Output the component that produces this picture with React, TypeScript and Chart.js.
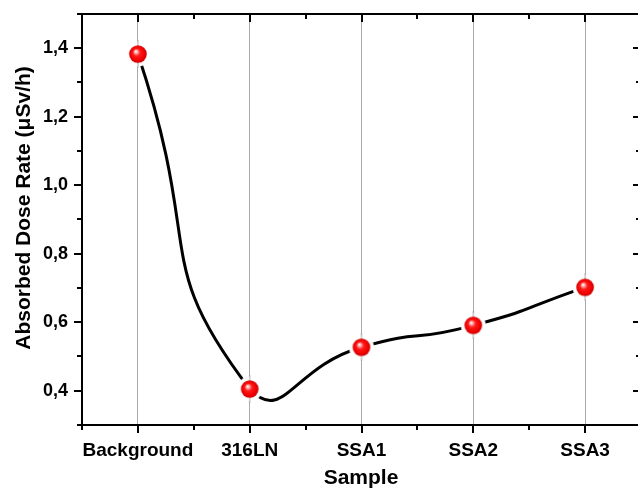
import React, { useEffect, useRef } from "react";
import { Chart, registerables } from "chart.js";

Chart.register(...registerables);

const categories = ["Background", "316LN", "SSA1", "SSA2", "SSA3"];
const doseRate = [1.383, 0.405, 0.527, 0.591, 0.702];
const yTickValues = [0.4, 0.6, 0.8, 1.0, 1.2, 1.4];
const yMinorValues = [0.3, 0.5, 0.7, 0.9, 1.1, 1.3, 1.5];
const xTitle = "Sample";
const yTitle = "Absorbed Dose Rate (\u03bcSv/h)";

const FONT = "'Liberation Sans', Arial, sans-serif";

function makeMarker(): HTMLCanvasElement {
  const size = 28;
  const c = document.createElement("canvas");
  c.width = size;
  c.height = size;
  const g = c.getContext("2d")!;
  const m = size / 2;
  g.fillStyle = "#ffffff";
  g.beginPath();
  g.arc(m, m, 12.5, 0, Math.PI * 2);
  g.fill();
  g.fillStyle = "#aaaaaa";
  g.fillRect(m - 0.5, 0, 1, size);
  const r = 8.8;
  const grad = g.createRadialGradient(m - 2.2, m - 2.8, 0.3, m, m, r);
  grad.addColorStop(0, "#ffffff");
  grad.addColorStop(0.15, "#ffb0b0");
  grad.addColorStop(0.4, "#ff1a1a");
  grad.addColorStop(0.8, "#f00000");
  grad.addColorStop(1, "#c40000");
  g.fillStyle = grad;
  g.beginPath();
  g.arc(m, m, r, 0, Math.PI * 2);
  g.fill();
  return c;
}

const framePlugin = {
  id: "originFrame",
  afterDraw(chart: any) {
    const { ctx, chartArea } = chart;
    const { left, right, top, bottom } = chartArea;
    const xs = chart.scales.x;
    const ys = chart.scales.y;
    ctx.save();
    ctx.strokeStyle = "#000";
    ctx.lineWidth = 2;
    ctx.strokeRect(left, top, right - left, bottom - top);
    ctx.beginPath();
    const yAll = [...yTickValues.map((v) => [v, 8]), ...yMinorValues.map((v) => [v, 5])];
    for (const [v, len] of yAll) {
      const p = Math.round(ys.getPixelForValue(v));
      ctx.moveTo(left - len, p);
      ctx.lineTo(left, p);
      ctx.moveTo(right - len, p);
      ctx.lineTo(right, p);
    }
    for (let i = 0; i <= categories.length * 2; i++) {
      const v = 0.5 + i * 0.5;
      const len = i % 2 === 1 ? 8 : 5;
      const p = Math.round(xs.getPixelForValue(v));
      ctx.moveTo(p, bottom);
      ctx.lineTo(p, bottom + len);
      ctx.moveTo(p, top);
      ctx.lineTo(p, top + len);
    }
    ctx.stroke();

    ctx.fillStyle = "#000";
    ctx.font = `bold 21px ${FONT}`;
    ctx.textAlign = "center";
    ctx.textBaseline = "alphabetic";
    ctx.fillText(xTitle, 361, 484);
    ctx.translate(30, 208);
    ctx.rotate(-Math.PI / 2);
    ctx.fillText(yTitle, 0, 0);
    ctx.restore();
  },
};

function zeroPad(s: any) {
  s.paddingTop = 0;
  s.paddingBottom = 0;
  s.paddingLeft = 0;
  s.paddingRight = 0;
}

export default function App() {
  const ref = useRef<HTMLCanvasElement>(null);
  useEffect(() => {
    const canvas = ref.current!;
    const marker = makeMarker();
    const chart = new Chart(canvas, {
      type: "line",
      data: {
        datasets: [
          {
            data: doseRate.map((y, i) => ({ x: i + 1, y })),
            borderColor: "#000",
            borderWidth: 3,
            tension: 0.6,
            pointStyle: marker as any,
            pointRadius: 9,
            pointHoverRadius: 9,
            fill: false,
          },
        ],
      },
      options: {
        responsive: false,
        maintainAspectRatio: false,
        devicePixelRatio: 1,
        animation: false,
        layout: { autoPadding: false, padding: { left: 0, right: 9, top: 14, bottom: 0 } },
        plugins: { legend: { display: false }, tooltip: { enabled: false } },
        scales: {
          x: {
            type: "linear",
            min: 0.5,
            max: 5.5,
            afterBuildTicks: (s: any) => {
              s.ticks = categories.map((_, i) => ({ value: i + 1 }));
            },
            afterFit: (s: any) => {
              s.height = 68;
              zeroPad(s);
            },
            ticks: {
              autoSkip: false,
              maxRotation: 0,
              color: "#000",
              padding: 14,
              font: { family: FONT, size: 19, weight: "bold" },
              callback: (v: any) => categories[Math.round(v) - 1],
            },
            grid: { color: "#aaaaaa", lineWidth: 1, drawTicks: false },
            border: { display: false },
          },
          y: {
            min: 0.3,
            max: 1.5,
            afterBuildTicks: (s: any) => {
              s.ticks = yTickValues.map((v) => ({ value: v }));
            },
            afterFit: (s: any) => {
              s.width = 82;
              zeroPad(s);
            },
            ticks: {
              color: "#000",
              padding: 14,
              font: { family: FONT, size: 18, weight: "bold" },
              callback: (v: any) => Number(v).toFixed(1).replace(".", ","),
            },
            grid: { display: false, drawTicks: false },
            border: { display: false },
          },
        },
      },
      plugins: [framePlugin],
    });
    return () => chart.destroy();
  }, []);
  return (
    <div
      style={{
        position: "absolute",
        left: 0,
        top: 0,
        width: 638,
        height: 493,
        overflow: "hidden",
        background: "#fff",
      }}
    >
      <canvas ref={ref} width={650} height={493} style={{ display: "block", width: 650, height: 493 }} />
    </div>
  );
}
